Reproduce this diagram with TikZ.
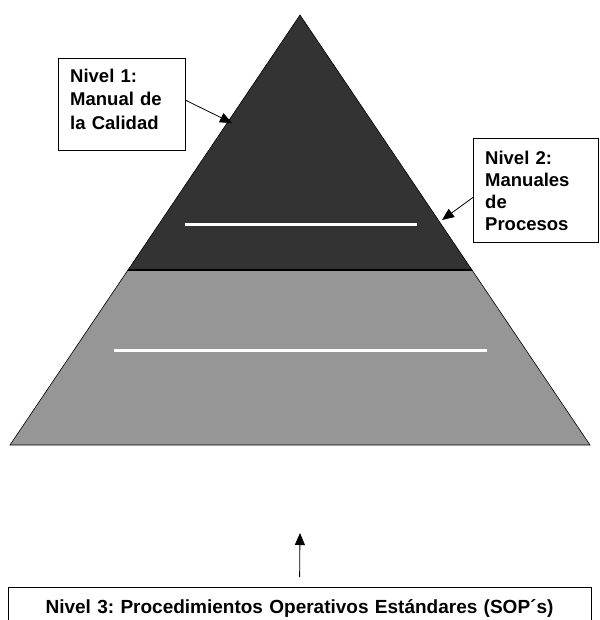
\documentclass[tikz,border=0pt]{standalone}
\usepackage{fontspec}
\setmainfont{Liberation Sans}
\usetikzlibrary{positioning,calc,arrows.meta}
\definecolor{topgray}{HTML}{333333}
\definecolor{lowgray}{HTML}{969696}
\frenchspacing

\begin{document}
\begin{tikzpicture}[
  x=1pt, y=-1pt,
  level box/.style={draw, fill=white, anchor=north west, align=left, inner xsep=12pt, inner ysep=10.5pt,
    font=\fontsize{18.5}{23.5}\selectfont\bfseries},
  flow/.style={-{Triangle[length=12pt,width=10pt]}, line width=0.8pt},
  cut/.style={white, line width=3pt}
]
\clip (0,0) rectangle (599,620);

% pyramid
\fill[lowgray, draw=black, line width=0.6pt] (128,270) -- (472,270) -- (590,445) -- (10,445) -- cycle;
\fill[topgray, draw=black, line width=0.6pt] (300,15) -- (472,270) -- (128,270) -- cycle;
\draw[line width=1.2pt] (128,270) -- (472,270);
\draw[cut] (185,224) -- (417,224);
\draw[cut] (114,350) -- (487,350);

% labels
\node[level box, text width=103pt, text depth=57.5pt] (calidad) at (58,58) {Nivel 1:\\Manual de\\la Calidad};
\node[level box, text width=101pt, inner ysep=12.5pt, text depth=66pt, font=\fontsize{18.5}{22}\selectfont\bfseries]
  (procesos) at (473,138) {Nivel 2:\\Manuales\\de\\Procesos};
\node[level box, anchor=north, align=center, text width=559pt, inner ysep=12pt, text depth=30pt,
  font=\fontsize{19}{23}\selectfont\bfseries] (sop) at (299.5,587)
  {Nivel 3: Procedimientos Operativos Estándares (SOP´s)};

\coordinate (tip1) at (232,123);
\coordinate (tip2) at (442,220);
\coordinate (tip3) at (300,533);

\draw[flow] ([yshift=4pt]calidad.east) -- (tip1);
\draw[flow] ([yshift=-7pt]procesos.west) -- (tip2);
\draw[flow, shorten <=10pt] (sop.north) -- (tip3);
\end{tikzpicture}
\end{document}
